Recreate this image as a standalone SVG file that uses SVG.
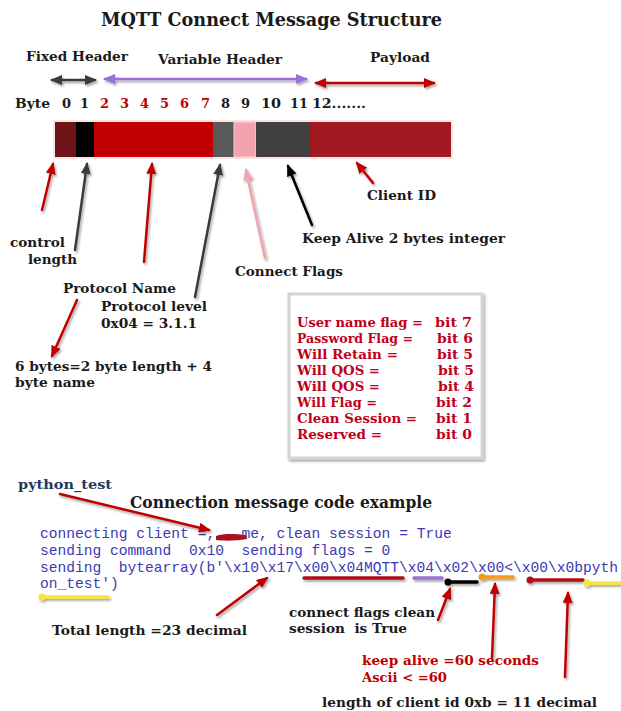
<svg xmlns="http://www.w3.org/2000/svg" width="621" height="711" viewBox="0 0 621 711">
  <style>
    .lbl { font-family: "DejaVu Serif", "Liberation Serif", serif; font-weight: bold; font-size: 13px; fill: #1a1a1a; }
    .red { fill: #c00000; }
    .flag { font-family: "DejaVu Serif", "Liberation Serif", serif; font-weight: bold; font-size: 13.5px; fill: #c0001a; }
    .code { font-family: "Liberation Mono", "DejaVu Sans Mono", monospace; font-size: 14.6px; fill: #3a3ab4; }
    .arr { fill: none; stroke-width: 2.5; stroke-linecap: round; }
    .uline { fill: none; stroke-width: 3.5; stroke-linecap: round; }
  </style>
  <defs>
    <filter id="shadow" x="-20%" y="-20%" width="140%" height="160%">
      <feDropShadow dx="1.5" dy="2" stdDeviation="1.2" flood-color="#000" flood-opacity="0.35"/>
    </filter>
    <marker id="hRed" markerUnits="userSpaceOnUse" markerWidth="12" markerHeight="10" refX="10" refY="5" orient="auto-start-reverse">
      <path d="M0,0 L12,5 L0,10 z" fill="#c00000"/>
    </marker>
    <marker id="hDark" markerUnits="userSpaceOnUse" markerWidth="12" markerHeight="10" refX="10" refY="5" orient="auto-start-reverse">
      <path d="M0,0 L12,5 L0,10 z" fill="#3a3a3a"/>
    </marker>
    <marker id="hBlack" markerUnits="userSpaceOnUse" markerWidth="12" markerHeight="10" refX="10" refY="5" orient="auto-start-reverse">
      <path d="M0,0 L12,5 L0,10 z" fill="#000"/>
    </marker>
    <marker id="hPink" markerUnits="userSpaceOnUse" markerWidth="12" markerHeight="10" refX="10" refY="5" orient="auto-start-reverse">
      <path d="M0,0 L12,5 L0,10 z" fill="#f2a3ad"/>
    </marker>
    <marker id="hPurple" markerUnits="userSpaceOnUse" markerWidth="12" markerHeight="10" refX="10" refY="5" orient="auto-start-reverse">
      <path d="M0,0 L12,5 L0,10 z" fill="#9b6fd6"/>
    </marker>
  </defs>

  <rect width="621" height="711" fill="#fff"/>

  <!-- heading -->
  <text id="title" class="lbl" x="101" y="26" style="font-size:18px" textLength="341" lengthAdjust="spacingAndGlyphs">MQTT Connect Message Structure</text>

  <!-- section labels above the byte bar -->
  <g id="sections">
    <text class="lbl" x="26" y="61" textLength="102" lengthAdjust="spacingAndGlyphs">Fixed Header</text>
    <text class="lbl" x="158" y="64" textLength="124" lengthAdjust="spacingAndGlyphs">Variable Header</text>
    <text class="lbl" x="370" y="62" textLength="60" lengthAdjust="spacingAndGlyphs">Payload</text>
  </g>

  <!-- byte index row -->
  <g id="byte-row" class="lbl">
    <text x="15" y="108" textLength="35" lengthAdjust="spacingAndGlyphs">Byte</text>
    <text x="62" y="108">0</text>
    <text x="80" y="108">1</text>
    <text class="red" x="100" y="108">2</text>
    <text class="red" x="120" y="108">3</text>
    <text class="red" x="140" y="108">4</text>
    <text class="red" x="160" y="108">5</text>
    <text class="red" x="180" y="108">6</text>
    <text class="red" x="201" y="108">7</text>
    <text x="221" y="108">8</text>
    <text x="241" y="108">9</text>
    <text x="261" y="108" textLength="20" lengthAdjust="spacingAndGlyphs">10</text>
    <text x="290" y="108" textLength="18" lengthAdjust="spacingAndGlyphs">11</text>
    <text x="312" y="108" textLength="54" lengthAdjust="spacingAndGlyphs">12.......</text>
  </g>

  <!-- byte bar -->
  <g id="byte-bar">
    <rect x="54" y="121" width="398" height="37" fill="none" stroke="#f4c8cb" stroke-width="1"/>
    <rect x="55" y="122" width="21" height="35" fill="#6e1418"/>
    <rect x="76" y="122" width="18" height="35" fill="#000"/>
    <rect x="94" y="122" width="119" height="35" fill="#c00000"/>
    <rect x="213" y="122" width="21" height="35" fill="#595959"/>
    <rect x="234" y="122" width="22" height="35" fill="#f2a3ab" stroke="#f7d0d4" stroke-width="1"/>
    <rect x="256" y="122" width="54" height="35" fill="#404040"/>
    <rect x="310" y="122" width="141" height="35" fill="#a01820"/>
  </g>

  <!-- field labels -->
  <g id="field-labels" class="lbl">
    <text x="367" y="200" textLength="69" lengthAdjust="spacingAndGlyphs">Client ID</text>
    <text x="302" y="243" textLength="203" lengthAdjust="spacingAndGlyphs">Keep Alive 2 bytes integer</text>
    <text x="10" y="247" textLength="55" lengthAdjust="spacingAndGlyphs">control</text>
    <text x="28" y="264" textLength="49" lengthAdjust="spacingAndGlyphs">length</text>
    <text x="235" y="276" textLength="108" lengthAdjust="spacingAndGlyphs">Connect Flags</text>
    <text x="63" y="293" textLength="113" lengthAdjust="spacingAndGlyphs">Protocol Name</text>
    <text x="101" y="311" textLength="106" lengthAdjust="spacingAndGlyphs">Protocol level</text>
    <text x="101" y="328" textLength="96" lengthAdjust="spacingAndGlyphs">0x04 = 3.1.1</text>
    <text x="15" y="371" textLength="197" lengthAdjust="spacingAndGlyphs">6 bytes=2 byte length + 4</text>
    <text x="15" y="387" textLength="80" lengthAdjust="spacingAndGlyphs">byte name</text>
  </g>

  <!-- connect flags bit table -->
  <g id="flag-table">
    <rect x="289" y="294" width="193" height="164" fill="#fff" stroke="#d4d4d4" stroke-width="3" filter="url(#shadow)"/>
    <g class="flag">
      <text x="297" y="327" textLength="126" lengthAdjust="spacingAndGlyphs">User name flag =</text>
      <text x="435" y="327" textLength="37" lengthAdjust="spacingAndGlyphs">bit 7</text>
      <text x="297" y="343" textLength="116" lengthAdjust="spacingAndGlyphs">Password Flag =</text>
      <text x="437" y="343" textLength="36" lengthAdjust="spacingAndGlyphs">bit 6</text>
      <text x="297" y="359" textLength="101" lengthAdjust="spacingAndGlyphs">Will Retain =</text>
      <text x="437" y="359" textLength="36" lengthAdjust="spacingAndGlyphs">bit 5</text>
      <text x="297" y="375" textLength="83" lengthAdjust="spacingAndGlyphs">Will QOS =</text>
      <text x="438" y="375" textLength="36" lengthAdjust="spacingAndGlyphs">bit 5</text>
      <text x="297" y="391" textLength="83" lengthAdjust="spacingAndGlyphs">Will QOS =</text>
      <text x="438" y="391" textLength="36" lengthAdjust="spacingAndGlyphs">bit 4</text>
      <text x="297" y="406.5" textLength="80" lengthAdjust="spacingAndGlyphs">Will Flag =</text>
      <text x="436" y="406.5" textLength="36" lengthAdjust="spacingAndGlyphs">bit 2</text>
      <text x="297" y="422.5" textLength="120" lengthAdjust="spacingAndGlyphs">Clean Session =</text>
      <text x="436" y="422.5" textLength="36" lengthAdjust="spacingAndGlyphs">bit 1</text>
      <text x="297" y="438.5" textLength="85" lengthAdjust="spacingAndGlyphs">Reserved =</text>
      <text x="436" y="438.5" textLength="36" lengthAdjust="spacingAndGlyphs">bit 0</text>
    </g>
  </g>

  <!-- code example -->
  <g id="code-example">
    <text class="lbl" x="18" y="489" style="fill:#1f3a5f" textLength="94" lengthAdjust="spacingAndGlyphs">python_test</text>
    <text class="lbl" x="130" y="508" style="font-size:16px" textLength="302" lengthAdjust="spacingAndGlyphs">Connection message code example</text>
    <text class="code" x="40" y="538">connecting client =,</text>
    <text class="code" x="241.5" y="538">me, clean session = True</text>
    <path d="M216,536 C224,533 236,534 246,535 L247,539 C236,541 224,541 216,540 z" fill="#a8141c"/>
    <text class="code" x="40" y="555" xml:space="preserve">sending command  0x10  sending flags = 0</text>
    <text class="code" x="40" y="572" xml:space="preserve">sending  bytearray(b'\x10\x17\x00\x04MQTT\x04\x02\x00&lt;\x00\x0bpyth</text>
    <text class="code" x="40" y="588">on_test')</text>
  </g>

  <!-- colour underlines marking the byte groups -->
  <g id="underlines" filter="url(#shadow)">
    <line class="uline" x1="304" y1="578" x2="403" y2="578" stroke="#b01018"/>
    <line class="uline" x1="414" y1="578" x2="442" y2="578" stroke="#9b6fd6"/>
    <line class="uline" x1="448" y1="582" x2="477" y2="582" stroke="#000"/>
    <circle cx="448" cy="582" r="3.5" fill="#000"/>
    <line class="uline" x1="482" y1="577" x2="513" y2="577" stroke="#f39c1a"/>
    <circle cx="482" cy="577" r="3.5" fill="#f39c1a"/>
    <line class="uline" x1="530" y1="580" x2="583" y2="580" stroke="#b01018"/>
    <circle cx="530" cy="580" r="3.5" fill="#b01018"/>
    <line class="uline" x1="587" y1="583" x2="622" y2="583" stroke="#f5e63a"/>
    <circle cx="587" cy="583" r="3.5" fill="#f5e63a"/>
    <line class="uline" x1="42" y1="597" x2="108" y2="597" stroke="#f5e63a"/>
    <circle cx="42" cy="597" r="3.5" fill="#f5e63a"/>
  </g>

  <!-- bottom annotations -->
  <g id="code-notes" class="lbl">
    <text x="52" y="635" textLength="195" lengthAdjust="spacingAndGlyphs">Total length =23 decimal</text>
    <text x="289" y="617" textLength="146" lengthAdjust="spacingAndGlyphs">connect flags clean</text>
    <text x="289" y="633" textLength="118" lengthAdjust="spacingAndGlyphs" xml:space="preserve">session  is True</text>
    <text class="red" x="362" y="665" textLength="177" lengthAdjust="spacingAndGlyphs">keep alive =60 seconds</text>
    <text class="red" x="362" y="682" textLength="85" lengthAdjust="spacingAndGlyphs">Ascii &lt; =60</text>
    <text x="322" y="707" textLength="275" lengthAdjust="spacingAndGlyphs">length of client id 0xb = 11 decimal</text>
  </g>

  <!-- connectors -->
  <g id="connectors" filter="url(#shadow)">
    <line class="arr" x1="52" y1="80" x2="95" y2="80" stroke="#3a3a3a" stroke-width="3" marker-start="url(#hDark)" marker-end="url(#hDark)"/>
    <line class="arr" x1="105" y1="79" x2="306" y2="79" stroke="#9b6fd6" stroke-width="3" marker-start="url(#hPurple)" marker-end="url(#hPurple)"/>
    <line class="arr" x1="316" y1="83" x2="434" y2="83" stroke="#c00000" stroke-width="3" marker-start="url(#hRed)" marker-end="url(#hRed)"/>

    <line class="arr" x1="42" y1="210" x2="53" y2="164" stroke="#c00000" marker-end="url(#hRed)"/>
    <line class="arr" x1="75" y1="250" x2="87" y2="164" stroke="#3a3a3a" marker-end="url(#hDark)"/>
    <line class="arr" x1="144" y1="262" x2="152" y2="164" stroke="#c00000" marker-end="url(#hRed)"/>
    <line class="arr" x1="195" y1="297" x2="220" y2="165" stroke="#3a3a3a" marker-end="url(#hDark)"/>
    <line class="arr" x1="265" y1="258" x2="246" y2="170" stroke="#f2a3ad" marker-end="url(#hPink)"/>
    <line class="arr" x1="312" y1="225" x2="288" y2="166" stroke="#000" marker-end="url(#hBlack)"/>
    <line class="arr" x1="373" y1="183" x2="357" y2="163" stroke="#c00000" marker-end="url(#hRed)"/>
    <line class="arr" x1="77" y1="300" x2="52" y2="356" stroke="#c00000" marker-end="url(#hRed)"/>

    <line class="arr" x1="60" y1="494" x2="209" y2="530" stroke="#c00000" marker-end="url(#hRed)"/>
    <line class="arr" x1="217" y1="615" x2="267" y2="578" stroke="#c00000" marker-end="url(#hRed)"/>
    <line class="arr" x1="438" y1="620" x2="450" y2="589" stroke="#c00000" marker-end="url(#hRed)"/>
    <line class="arr" x1="492" y1="658" x2="495" y2="584" stroke="#c00000" marker-end="url(#hRed)"/>
    <line class="arr" x1="565" y1="677" x2="568" y2="593" stroke="#c00000" marker-end="url(#hRed)"/>
  </g>
</svg>
